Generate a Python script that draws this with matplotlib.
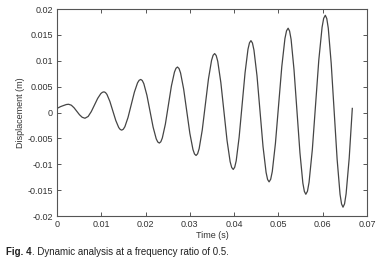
import matplotlib
matplotlib.use("Agg")
import matplotlib.pyplot as plt
from matplotlib.ticker import FuncFormatter

plt.rcParams['font.family'] = ['Liberation Sans', 'DejaVu Sans']

# displacement response (time in s, displacement in m)
time = [0.0, 0.0008, 0.0016, 0.0021, 0.0026,
        0.00322, 0.00383, 0.00445, 0.00507, 0.00568, 0.0063,
        0.00702, 0.00773, 0.00845, 0.00917, 0.00988, 0.01024, 0.0106, 0.01093,
        0.01127, 0.01193, 0.0126, 0.01327, 0.01393, 0.01427, 0.0146, 0.01496,
        0.01532, 0.01603, 0.01675, 0.01747, 0.01818, 0.01854, 0.0189, 0.01925,
        0.0196, 0.0203, 0.0210, 0.0217, 0.0224, 0.02275, 0.0231, 0.02344,
        0.02378, 0.02447, 0.02515, 0.02583, 0.02652, 0.02686, 0.0272, 0.02755,
        0.0279, 0.0286, 0.0293, 0.0300, 0.0307, 0.03105, 0.0314, 0.03175,
        0.0321, 0.0328, 0.0335, 0.0342, 0.0349, 0.03525, 0.0356, 0.03595,
        0.0363, 0.0370, 0.0377, 0.0384, 0.0391, 0.03945, 0.0398, 0.04013,
        0.04047, 0.04113, 0.0418, 0.04247, 0.04313, 0.04347, 0.0438, 0.04414,
        0.04448, 0.04517, 0.04585, 0.04653, 0.04722, 0.04756, 0.0479, 0.04826,
        0.04862, 0.04933, 0.05005, 0.05077, 0.05148, 0.05184, 0.0522, 0.05253,
        0.05287, 0.05353, 0.0542, 0.05487, 0.05553, 0.05587, 0.0562, 0.05657,
        0.05693, 0.05767, 0.0584, 0.05913, 0.05987, 0.06023, 0.0606, 0.06093,
        0.06127, 0.06193, 0.0626, 0.06327, 0.06393, 0.06427, 0.0646, 0.06495,
        0.0653, 0.0660, 0.0667]
disp = [0.0008, 0.00115, 0.0014, 0.00155, 0.0016,
        0.00142, 0.00093, 0.00025, -0.00043, -0.00092, -0.0011,
        -0.00076, 0.00018, 0.00145, 0.00273, 0.00366, 0.00391, 0.0040, 0.00387,
        0.0035, 0.00215, 0.0003, -0.00155, -0.0029, -0.00327, -0.0034, -0.00323,
        -0.00274, -0.00095, 0.0015, 0.00395, 0.00574, 0.00623, 0.0064, 0.00619,
        0.00558, 0.00333, 0.00025, -0.00283, -0.00508, -0.00569, -0.0059, -0.00565,
        -0.00492, -0.00223, 0.00145, 0.00513, 0.00782, 0.00855, 0.0088, 0.00851,
        0.00765, 0.00453, 0.00025, -0.00403, -0.00715, -0.00801, -0.0083, -0.00797,
        -0.00698, -0.00338, 0.00155, 0.00648, 0.01008, 0.01107, 0.0114, 0.01102,
        0.0099, 0.0058, 0.0002, -0.0054, -0.0095, -0.01062, -0.0110, -0.01058,
        -0.00933, -0.00478, 0.00145, 0.00768, 0.01223, 0.01348, 0.0139, 0.01344,
        0.01207, 0.00708, 0.00025, -0.00658, -0.01157, -0.01294, -0.0134, -0.0129,
        -0.01141, -0.00598, 0.00145, 0.00888, 0.01431, 0.0158, 0.0163, 0.01575,
        0.01415, 0.00828, 0.00025, -0.00778, -0.01365, -0.01525, -0.0158, -0.01521,
        -0.01348, -0.00715, 0.0015, 0.01015, 0.01648, 0.01821, 0.0188, 0.01817,
        0.01631, 0.00953, 0.00025, -0.00903, -0.01581, -0.01767, -0.0183, -0.01765,
        -0.0157, -0.0088, 0.0008]

x_ticks = [0, 0.01, 0.02, 0.03, 0.04, 0.05, 0.06, 0.07]
y_ticks = [-0.02, -0.015, -0.01, -0.005, 0, 0.005, 0.01, 0.015, 0.02]

fig = plt.figure(figsize=(3.83, 2.67), dpi=100)
ax = fig.add_axes([0.149, 0.191, 0.809, 0.775])

ax.plot(time, disp, color="#454545", lw=0.9)

ax.set_xlim(0, 0.07)
ax.set_ylim(-0.02, 0.02)
ax.set_xticks(x_ticks)
ax.set_yticks(y_ticks)
fmt = FuncFormatter(lambda v, p: "%g" % round(v, 4))
ax.xaxis.set_major_formatter(fmt)
ax.yaxis.set_major_formatter(fmt)
ax.tick_params(direction="in", length=3, width=0.7, color="#555555",
               labelsize=6.5, labelcolor="#333333", top=True, right=True, pad=3)
for s in ax.spines.values():
    s.set_color("#555555")
    s.set_linewidth(0.8)

ax.set_xlabel("Time (s)", fontsize=6.5, color="#333333", labelpad=1)
ax.set_ylabel("Displacement (m)", fontsize=6.5, color="#333333", labelpad=2)

# caption
t1 = fig.text(0.016, 0.056, "Fig. 4", fontsize=7, fontweight="bold",
              color="#222222", va="center")
ax.annotate(". Dynamic analysis at a frequency ratio of 0.5.", xy=(1, 0.5),
            xycoords=t1, va="center", fontsize=7, color="#222222",
            annotation_clip=False)

fig.savefig("out.png", dpi=100)
